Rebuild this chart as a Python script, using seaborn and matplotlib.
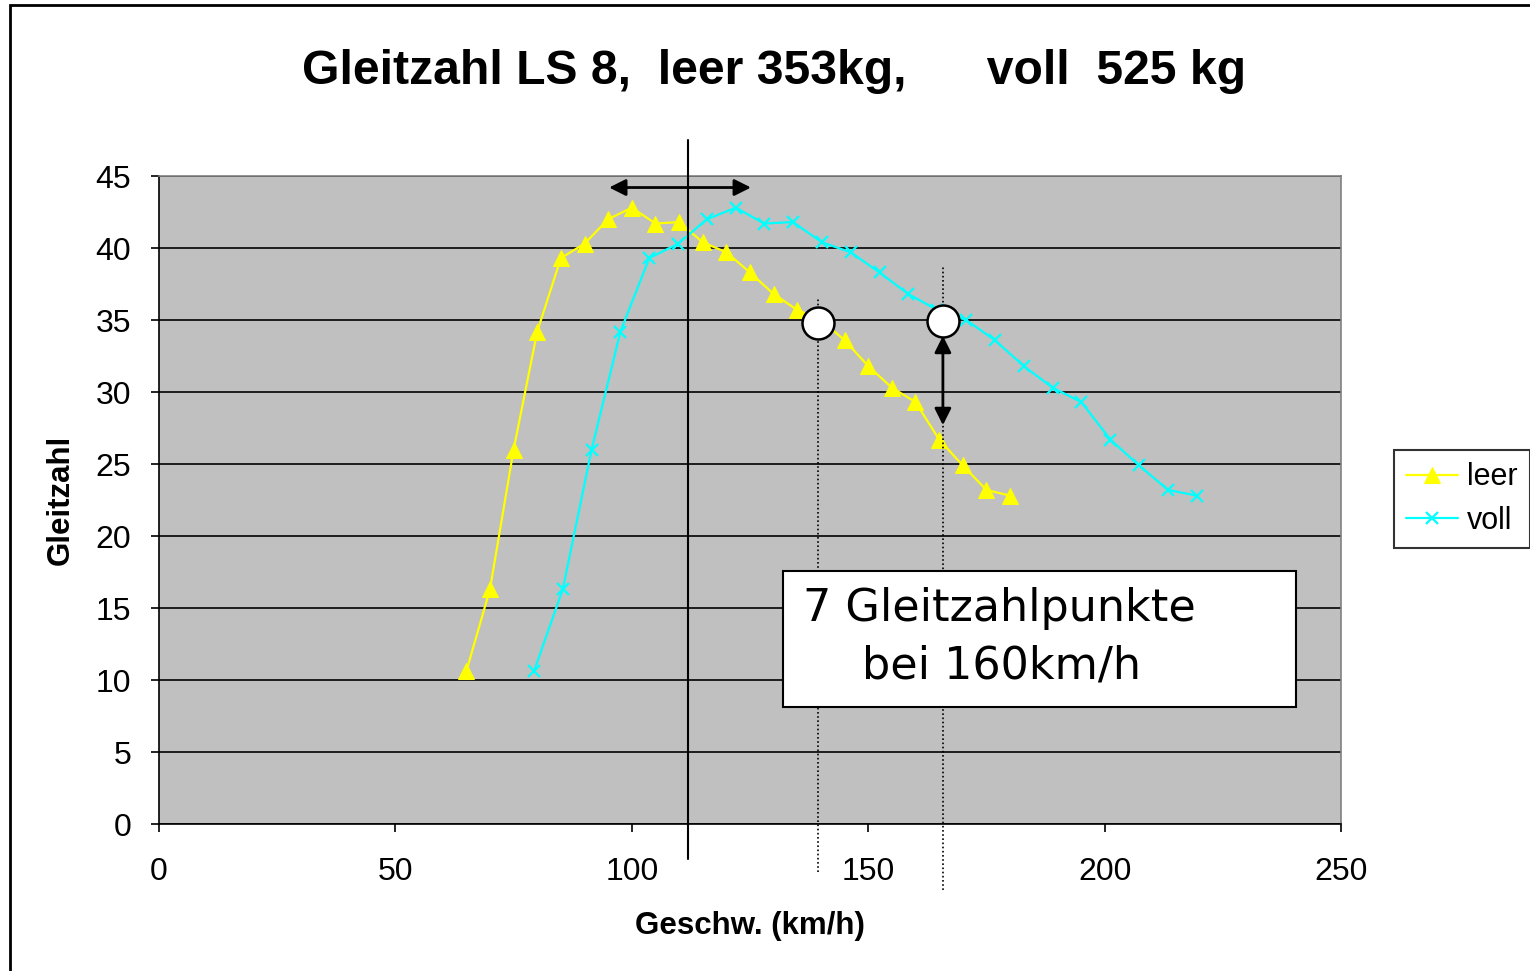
import matplotlib
matplotlib.use("Agg")
import matplotlib.pyplot as plt
from matplotlib.patches import Rectangle
import pandas as pd
import seaborn as sns

leer_v = [65, 70, 75, 80, 85, 90, 95, 100, 105, 110, 115, 120,
          125, 130, 135, 140, 145, 150, 155, 160, 165, 170, 175, 180]
leer_gz = [10.6, 16.3, 26.0, 34.2, 39.3, 40.3, 42.0, 42.8, 41.7, 41.8, 40.4, 39.7,
           38.3, 36.8, 35.7, 35.0, 33.6, 31.8, 30.3, 29.3, 26.7, 24.9, 23.2, 22.8]

voll_v = [79.3, 85.4, 91.5, 97.6, 103.7, 109.8, 115.9, 122.0, 128.0, 134.1, 140.2, 146.3,
          152.4, 158.5, 164.6, 170.7, 176.8, 182.9, 189.0, 195.1, 201.2, 207.3, 213.4, 219.5]
voll_gz = [10.6, 16.3, 26.0, 34.2, 39.3, 40.3, 42.0, 42.8, 41.7, 41.8, 40.4, 39.7,
           38.3, 36.8, 35.7, 35.0, 33.6, 31.8, 30.3, 29.3, 26.7, 24.9, 23.2, 22.8]

# Markierungen im Diagramm
kreis_v = [139.4, 165.8]
kreis_gz = [34.8, 34.9]
bestgleit_v = 111.9
bereich_v = [95.2, 125.2]
bereich_gz = 44.2
pfeil_gz = [33.9, 27.7]

sns.set_theme(style="white")
plt.rcParams['font.family'] = ['Liberation Sans', 'DejaVu Sans']
plt.rcParams['text.color'] = "black"
plt.rcParams['axes.labelcolor'] = "black"
plt.rcParams['xtick.color'] = "black"
plt.rcParams['ytick.color'] = "black"

df = pd.concat([
    pd.DataFrame({"v": leer_v, "gz": leer_gz, "Beladung": "leer"}),
    pd.DataFrame({"v": voll_v, "gz": voll_gz, "Beladung": "voll"}),
])

fig = plt.figure(figsize=(15.3, 9.71), dpi=100)
ax = fig.add_axes([159 / 1530, 1 - 824 / 971, (1341 - 159) / 1530, (824 - 176) / 971])
ax.set_facecolor("#C0C0C0")

# Rahmen um die Grafik
fig.patches.append(Rectangle((10 / 1530, -0.5), 1.5, 0.5 + 1 - 5 / 971,
                             transform=fig.transFigure, fill=False,
                             edgecolor="black", linewidth=2.0))

sns.lineplot(data=df[df["Beladung"] == "leer"], x="v", y="gz", ax=ax,
             color="#FFFF00", marker="^", markersize=12, markeredgecolor="#FFFF00",
             linewidth=1.6, label="leer", sort=False)
sns.lineplot(data=df[df["Beladung"] == "voll"], x="v", y="gz", ax=ax,
             color="#00FFFF", marker="x", markersize=8, markeredgewidth=1.6,
             markeredgecolor="#00FFFF", linewidth=1.6, label="voll", sort=False)

ax.set_xlim(0, 250)
ax.set_ylim(0, 45)
ax.set_xticks(range(0, 251, 50))
ax.set_yticks(range(0, 46, 5))
ax.grid(axis="y", color="black", linewidth=1.2)
ax.set_axisbelow(True)
ax.tick_params(axis="both", direction="out", length=6, width=1.2, color="black",
               labelcolor="black", labelsize=23, left=True, bottom=True)
ax.tick_params(axis="y", pad=14)
ax.tick_params(axis="x", pad=18)
for side in ["left", "bottom"]:
    ax.spines[side].set_color("black")
    ax.spines[side].set_linewidth(1.2)
for side in ["top", "right"]:
    ax.spines[side].set_color("#808080")
    ax.spines[side].set_linewidth(1.2)

ax.set_xlabel("Geschw. (km/h)", fontsize=22.5, fontweight="bold", labelpad=17)
ax.set_ylabel("Gleitzahl", fontsize=22.5, fontweight="bold", labelpad=14)

fig.text(0.506, 0.926, "Gleitzahl LS 8,  leer 353kg,      voll  525 kg",
         ha="center", va="center", fontsize=34.7, fontweight="bold")

# Bestgleitbereich
ax.plot([bestgleit_v, bestgleit_v], [-2.4, 47.5], color="black", linewidth=1.5,
        clip_on=False, zorder=3)
ax.annotate("", xy=(bereich_v[0], bereich_gz), xytext=(bereich_v[1], bereich_gz),
            arrowprops=dict(arrowstyle="<|-|>", color="black", lw=2,
                            mutation_scale=25, shrinkA=0, shrinkB=0),
            annotation_clip=False)

# gepunktete Linien
ax.plot([kreis_v[0], kreis_v[0]], [-3.3, 36.5], color="black", linestyle=(0, (1, 1.5)),
        linewidth=1.2, clip_on=False, zorder=3)
ax.plot([kreis_v[1], kreis_v[1]], [-4.6, 38.7], color="black", linestyle=(0, (1, 1.5)),
        linewidth=1.2, clip_on=False, zorder=3)

ax.annotate("", xy=(kreis_v[1], pfeil_gz[0]), xytext=(kreis_v[1], pfeil_gz[1]),
            arrowprops=dict(arrowstyle="<|-|>", color="black", lw=2,
                            mutation_scale=25, shrinkA=0, shrinkB=0), zorder=5)

ax.plot(kreis_v, kreis_gz, linestyle="none", marker="o", markersize=23,
        markerfacecolor="white", markeredgecolor="black", markeredgewidth=1.8, zorder=6)

# Textkasten
ax.add_patch(Rectangle((132.0, 8.1), 108.5, 9.5, facecolor="white", edgecolor="black",
                       linewidth=1.5, zorder=7))
ax.text(136.2, 15.0, "7 Gleitzahlpunkte", fontsize=32, family="DejaVu Sans",
        ha="left", va="center", zorder=8)
ax.text(148.7, 11.0, "bei 160km/h", fontsize=32, family="DejaVu Sans",
        ha="left", va="center", zorder=8)

leg = ax.legend(loc="upper left", bbox_to_anchor=(1394 / 1530, 1 - 450 / 971),
                bbox_transform=fig.transFigure, borderaxespad=0, fontsize=22,
                frameon=True, fancybox=False, edgecolor="black", handlelength=1.7,
                borderpad=0.4, labelspacing=0.45, handletextpad=0.3)
leg.get_frame().set_linewidth(1.5)

fig.savefig("out.png", dpi=100)
